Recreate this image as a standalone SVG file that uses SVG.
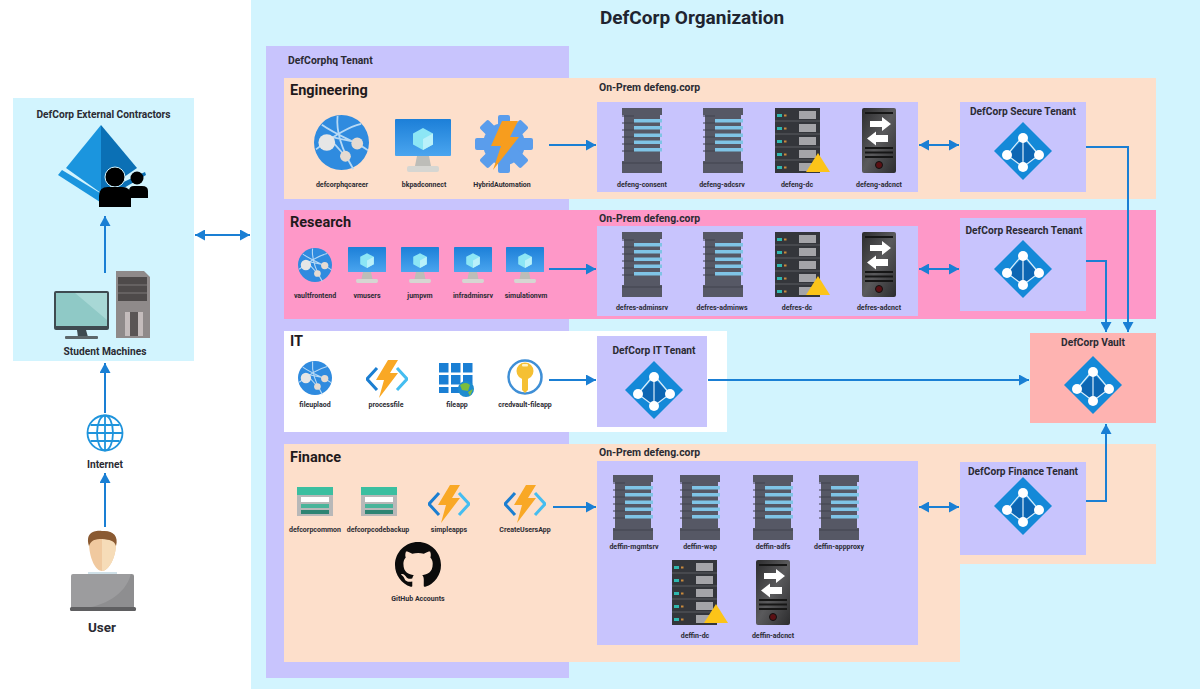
<svg xmlns="http://www.w3.org/2000/svg" width="1200" height="689" viewBox="0 0 1200 689">
<style>
text{font-family:Roboto,"Liberation Sans",sans-serif;font-weight:700;fill:#2b2b33}
.l{font-size:7px;text-anchor:middle}
.m{font-size:10.2px;text-anchor:middle}
.h{font-size:14.5px;fill:#1f1a1c}
.p{font-size:10.4px}
.c{fill:none;stroke:#1a7fd4;stroke-width:2}
.a{marker-end:url(#ah)}
.b{marker-end:url(#ah);marker-start:url(#ah)}
.lav{fill:#c8c4fd}.pea{fill:#fddfcb}
</style>
<defs>
<marker id="ah" markerUnits="userSpaceOnUse" markerWidth="10" markerHeight="11" refX="10" refY="5.5" orient="auto-start-reverse"><path d="M0,0L10,5.5L0,11z" fill="#1a7fd4"/></marker>
<linearGradient id="vmg" x1="0" y1="0" x2="0" y2="1"><stop offset="0" stop-color="#1c7fd8"/><stop offset="1" stop-color="#4aa5ef"/></linearGradient>
<linearGradient id="gwg" x1="0" y1="0" x2="1" y2="1"><stop offset="0" stop-color="#2c2c2e"/><stop offset=".5" stop-color="#5a5a5c"/><stop offset="1" stop-color="#2c2c2e"/></linearGradient>
<symbol id="server" viewBox="0 0 40 65">
<path d="M0,0H40V7H38V53H40V65H0V53H2V7H0z" fill="#565865"/>
<path d="M0,8H12M0,15H12M0,22H12M0,29H12M0,36H12M0,43H12M0,55H40" stroke="#41434e" stroke-width="1"/>
<g fill="#7fc4e6"><rect x="12" y="11" width="28" height="3.5"/><rect x="12" y="18" width="28" height="3.5"/><rect x="12" y="25.5" width="28" height="3.5"/><rect x="12" y="32.5" width="28" height="3.5"/><rect x="12" y="40" width="28" height="3.5"/></g>
</symbol>
<symbol id="rack" viewBox="0 0 45 65">
<rect width="45" height="65" fill="#34363b"/>
<g fill="#a4a4a8"><rect x="24" y="3" width="17" height="8"/><rect x="24" y="16" width="17" height="8"/><rect x="24" y="29" width="17" height="8"/><rect x="24" y="42" width="17" height="8"/><rect x="24" y="55" width="17" height="8"/></g>
<g stroke="#5a5c62" stroke-width="1"><path d="M0,13H45M0,26H45M0,39H45M0,52H45"/></g>
<g fill="#2fb7b0"><rect x="2" y="6" width="5" height="3"/><rect x="2" y="19" width="5" height="3"/><rect x="2" y="32" width="5" height="3"/><rect x="2" y="45" width="5" height="3"/><rect x="2" y="58" width="5" height="3"/></g>
<g fill="#c98a3c"><rect x="9" y="6.5" width="2.5" height="2"/><rect x="9" y="19.5" width="2.5" height="2"/><rect x="9" y="32.5" width="2.5" height="2"/><rect x="9" y="45.5" width="2.5" height="2"/><rect x="9" y="58.5" width="2.5" height="2"/></g>
</symbol>
<symbol id="gateway" viewBox="0 0 34 65">
<rect width="34" height="65" rx="2" fill="url(#gwg)"/>
<path d="M3,5H31M3,40H31M3,44.500H31M3,49H31" stroke="#161616" stroke-width="2"/>
<path d="M8,13H20V9L29,16L20,23V19H8z" fill="#fff"/>
<path d="M26,27H14V23.500L5,30.500L14,37.500V34H26z" fill="#fff"/>
<circle cx="17" cy="57" r="3.500" fill="#5b1014" stroke="#111"/>
</symbol>
<symbol id="tenant" viewBox="0 0 58 58">
<path d="M29,0L58,29L29,58L0,29z" fill="#1489d8"/>
<path d="M29,17L14,33L29,45L44,33z" fill="#0d66b3"/>
<path d="M29,14V45M29,14L13,33L29,45L45,33z" fill="none" stroke="#dceefa" stroke-width="1.200"/>
<g fill="#fff"><circle cx="29" cy="16" r="5"/><circle cx="13" cy="33" r="5"/><circle cx="45" cy="33" r="5"/><circle cx="29" cy="45" r="5"/></g>
</symbol>
<symbol id="web" viewBox="0 0 56 56">
<circle cx="28" cy="28" r="28" fill="#2f8bdf"/>
<path d="M8,10C25,22 45,28 55,36M24,1C22,20 30,38 40,55M2,35C15,25 35,12 48,9M16,22L44,28M16,24L32,42" fill="none" stroke="#b6d9f5" stroke-width="1.800"/>
<circle cx="13" cy="28" r="8.500" fill="#e6e6e6"/><circle cx="44" cy="29" r="6" fill="#e4dbd2"/><circle cx="32" cy="42" r="5.500" fill="#e4dbd2"/>
</symbol>
<symbol id="vm" viewBox="0 0 56 53">
<rect width="56" height="37" rx="1" fill="url(#vmg)"/>
<path d="M22,37H34L36,47H20z" fill="#bdbdb8"/>
<rect x="12" y="47" width="32" height="6" rx="2" fill="#d6d6d2"/>
<path d="M28,9L38,14.500V25.500L28,31L18,25.500V14.500z" fill="#8ce6f5"/>
<path d="M28,20L38,14.500V25.500L28,31z" fill="#b9f1fa"/>
</symbol>
<symbol id="auto" viewBox="0 0 58 58">
<g fill="#5a9dec"><circle cx="29" cy="29" r="21"/>
<rect x="23" y="0" width="12" height="58" rx="2"/>
<rect x="23" y="0" width="12" height="58" rx="2" transform="rotate(45 29 29)"/>
<rect x="23" y="0" width="12" height="58" rx="2" transform="rotate(90 29 29)"/>
<rect x="23" y="0" width="12" height="58" rx="2" transform="rotate(135 29 29)"/></g>
<path d="M27,6H43L35,22H44L18,55L26,31H16z" fill="#f79d1e"/>
</symbol>
<symbol id="func" viewBox="0 0 42 38">
<path d="M11,8L1,19L11,30" fill="none" stroke="#1b7ed1" stroke-width="3"/>
<path d="M31,8L41,19L31,30" fill="none" stroke="#45bdf0" stroke-width="3"/>
<path d="M22,0H32L24,13H32L13,38L18,20H10z" fill="#f9a825"/>
</symbol>
<symbol id="store" viewBox="0 0 36 29">
<rect width="36" height="29" fill="#b8b8b8"/>
<rect width="36" height="8" fill="#3bbfa0"/>
<rect x="4" y="10" width="28" height="5" fill="#fff"/>
<rect x="4" y="17" width="28" height="4" fill="#48b49a"/>
<rect x="4" y="23" width="28" height="4" fill="#2e8473"/>
</symbol>
</defs>

<rect width="1200" height="689" fill="#fff"/>
<rect id="org" x="251" y="0" width="949" height="689" fill="#d2f4fe"/>
<rect id="ext" x="13" y="98" width="181" height="263" fill="#d2f4fe"/>
<rect id="hq" class="lav" x="266" y="46" width="303" height="632"/>
<rect id="eng" class="pea" x="284" y="78" width="872" height="121"/>
<rect id="res" x="284" y="210" width="872" height="109" fill="#fe98c8"/>
<rect id="it" x="284" y="331" width="443" height="101" fill="#fff"/>
<path id="fin" class="pea" d="M284,444H1156V564H960V662H284z"/>
<rect class="lav" x="597" y="102" width="321" height="90"/>
<rect class="lav" x="597" y="226" width="321" height="90"/>
<rect class="lav" x="597" y="461" width="321" height="184"/>

<text x="692" y="24" font-size="19" text-anchor="middle" style="fill:#1f2430">DefCorp Organization</text>
<text class="p" x="288" y="64">DefCorphq Tenant</text>
<text class="h" x="290" y="95">Engineering</text>
<text class="h" x="290" y="227">Research</text>
<text class="h" x="290" y="346">IT</text>
<text class="h" x="290" y="462">Finance</text>
<text class="p" x="599" y="91">On-Prem defeng.corp</text>
<text class="p" x="599" y="222">On-Prem defeng.corp</text>
<text class="p" x="599" y="456">On-Prem defeng.corp</text>

<g id="connectors">
<path class="c b" d="M195,235H250"/>
<path class="c a" d="M105,273V216"/>
<path class="c a" d="M105,413V363"/>
<path class="c a" d="M105,527V473"/>
<path class="c a" d="M549,145H596"/>
<path class="c a" d="M549,269H596"/>
<path class="c a" d="M549,380H596"/>
<path class="c a" d="M553,507H596"/>
<path class="c b" d="M919,145H959"/>
<path class="c b" d="M919,269H959"/>
<path class="c b" d="M919,507H959"/>
<path class="c a" d="M1086,147H1128V332"/>
<path class="c a" d="M1086,261H1106V332"/>
<path class="c a" d="M708,380H1029"/>
<path class="c a" d="M1086,501H1106V424"/>
</g>

<g id="n-contractors">
<path d="M101,125L66,168L101,193z" fill="#1b95de"/>
<path d="M101,125L137,168L101,193z" fill="#0b70b5"/>
<path d="M58,175L62,170L100,193V202z" fill="#1b95de"/>
<path d="M100,202V193L145,172L146,175z" fill="#0b70b5"/>
<circle cx="115" cy="177" r="10" fill="#000" stroke="#d2f4fe" stroke-width="1"/>
<path d="M129,198V191Q129,186 134,186H142Q148,186 148,191V198z" fill="#000"/>
<circle cx="137" cy="178" r="6.5" fill="#000"/>
<path d="M99,207V196Q99,187 108,187H122Q131,187 131,196V207z" fill="#000"/>
<text class="m" x="103.500" y="118">DefCorp External Contractors</text>
</g>
<g id="n-student">
<rect x="54" y="291" width="55" height="39" rx="2" fill="#3e4a50"/>
<rect x="56" y="293" width="51" height="33" fill="#a8d8d6"/>
<path d="M56,293H75L107,320V326H56z" fill="#8fc9c6"/>
<path d="M77,330H86L88,337H78z" fill="#3e4a50"/><rect x="65" y="336" width="33" height="3" rx="1" fill="#5c666a"/>
<path d="M116,271H144L150,277V338H116z" fill="#8f8a8a"/>
<rect x="118" y="277" width="29" height="24" fill="#4e4a4a"/>
<path d="M118,285H147M118,293H147" stroke="#7d7878"/>
<rect x="125" y="312" width="18" height="24" fill="#c4bcbc"/><rect x="130" y="312" width="8" height="24" fill="#5a5555"/>
<text class="m" x="105" y="355">Student Machines</text>
</g>
<g id="n-internet">
<g fill="none" stroke="#1f94dc" stroke-width="1.800"><circle cx="105" cy="433" r="17.500"/><ellipse cx="105" cy="433" rx="8" ry="17.500"/><path d="M105,415.500V450.500M88,433H122M90.500,425H119.500M90.500,441H119.500"/></g>
<text class="m" x="105" y="468">Internet</text>
</g>
<g id="n-user">
<path d="M89,545C87,533 94,531 102,531C111,531 118,534 116,546C115,560 108,571 102,571C96,571 90,560 89,545z" fill="#f0c99f"/>
<path d="M102,537C109,540 112,538 115,542L116,546C115,560 108,571 102,571z" fill="#f6dcb8"/>
<path d="M89,546C85,533 94,530 102,531C112,530 119,535 116,546C114,540 110,540 102,539C95,539 91,540 89,546z" fill="#8a5a32"/>
<rect x="88" y="572" width="29" height="4" fill="#cfe0e8"/>
<rect x="71" y="574" width="63" height="35" rx="2" fill="#9c9c9e"/>
<path d="M134,576V609H80C105,606 125,595 131,574z" fill="#8e8e90"/>
<rect x="70" y="607" width="66" height="4" rx="1.500" fill="#5f5f61"/>
<text x="102" y="632" font-size="13.5" text-anchor="middle">User</text>
</g>

<g id="n-defcorphqcareer"><use href="#web" x="314" y="115" width="55" height="55"/><text class="l" x="342" y="187">defcorphqcareer</text></g>
<g id="n-bkpadconnect"><use href="#vm" x="395" y="119" width="56" height="53"/><text class="l" x="424" y="187">bkpadconnect</text></g>
<g id="n-hybridautomation"><use href="#auto" x="475" y="115" width="58" height="58"/><text class="l" x="502" y="187">HybridAutomation</text></g>

<g id="n-defeng-consent"><use href="#server" x="622" y="108" width="40" height="65"/><text class="l" x="642" y="187">defeng-consent</text></g>
<g id="n-defeng-adcsrv"><use href="#server" x="703" y="108" width="40" height="65"/><text class="l" x="722" y="187">defeng-adcsrv</text></g>
<g id="n-defeng-dc"><use href="#rack" x="775" y="108" width="45" height="65"/><path d="M818,153L830,172H806z" fill="#fcc419"/><text class="l" x="797" y="187">defeng-dc</text></g>
<g id="n-defeng-adcnct"><use href="#gateway" x="862" y="108" width="34" height="65"/><text class="l" x="879" y="187">defeng-adcnct</text></g>
<g id="n-secure"><rect class="lav" x="960" y="102" width="126" height="90"/><text class="m" x="1023" y="115">DefCorp Secure Tenant</text><use href="#tenant" x="994" y="122" width="58" height="58"/></g>

<g id="n-vaultfrontend"><use href="#web" x="298" y="248" width="34" height="34"/><text class="l" x="315" y="298">vaultfrontend</text></g>
<g id="n-vmusers"><use href="#vm" x="348" y="247" width="38" height="36"/><text class="l" x="367" y="298">vmusers</text></g>
<g id="n-jumpvm"><use href="#vm" x="401" y="247" width="38" height="36"/><text class="l" x="420" y="298">jumpvm</text></g>
<g id="n-infradminsrv"><use href="#vm" x="454" y="247" width="38" height="36"/><text class="l" x="473" y="298">infradminsrv</text></g>
<g id="n-simulationvm"><use href="#vm" x="506" y="247" width="38" height="36"/><text class="l" x="526" y="298">simulationvm</text></g>

<g id="n-defres-adminsrv"><use href="#server" x="622" y="232" width="40" height="65"/><text class="l" x="642" y="310">defres-adminsrv</text></g>
<g id="n-defres-adminws"><use href="#server" x="703" y="232" width="40" height="65"/><text class="l" x="722" y="310">defres-adminws</text></g>
<g id="n-defres-dc"><use href="#rack" x="775" y="232" width="45" height="65"/><path d="M818,276L830,295H806z" fill="#fcc419"/><text class="l" x="797" y="310">defres-dc</text></g>
<g id="n-defres-adcnct"><use href="#gateway" x="862" y="232" width="34" height="65"/><text class="l" x="879" y="310">defres-adcnct</text></g>
<g id="n-research"><rect class="lav" x="960" y="218" width="126" height="93"/><text class="m" x="1024" y="234">DefCorp Research Tenant</text><use href="#tenant" x="994" y="240" width="58" height="58"/></g>

<g id="n-fileupload"><use href="#web" x="298" y="361" width="34" height="34"/><text class="l" x="315" y="407">fileuplaod</text></g>
<g id="n-processfile"><use href="#func" x="366" y="360" width="42" height="38"/><text class="l" x="386" y="407">processfile</text></g>
<g id="n-fileapp">
<g fill="#1a7fd4"><rect x="439" y="363" width="9.5" height="9.5"/><rect x="451" y="363" width="9.5" height="9.5"/><rect x="463" y="363" width="9.5" height="9.5"/><rect x="439" y="375" width="9.5" height="9.5"/><rect x="451" y="375" width="9.5" height="9.5"/><rect x="463" y="375" width="9.5" height="9.5"/><rect x="439" y="387" width="9.5" height="6"/><rect x="451" y="387" width="9.5" height="6"/></g>
<circle cx="466" cy="389" r="8" fill="#1e8ccf"/><path d="M460,385Q466,381 470,385L468,391L462,390zM468,392L473,389L470,396z" fill="#7dbd3c"/>
<text class="l" x="457" y="407">fileapp</text></g>
<g id="n-credvault"><circle cx="525" cy="377" r="16.5" fill="#fff" stroke="#3f8fd6" stroke-width="2.5"/>
<circle cx="525" cy="371" r="8.5" fill="#f5c033"/><path d="M522,375H528V390L525,393L522,390z" fill="#f5c033"/><rect x="522" y="364" width="6" height="2.5" rx="1" fill="#fff2c4"/>
<text class="l" x="525" y="407">credvault-fileapp</text></g>
<g id="n-ittenant"><rect class="lav" x="597" y="336" width="110" height="91"/><text class="m" x="654" y="354">DefCorp IT Tenant</text><use href="#tenant" x="625" y="361" width="58" height="58"/></g>
<g id="n-vault"><rect x="1030" y="333" width="126" height="90" fill="#feb3b1"/><text class="m" x="1093" y="346">DefCorp Vault</text><use href="#tenant" x="1064" y="356" width="58" height="58"/></g>

<g id="n-defcorpcommon"><use href="#store" x="297" y="487" width="36" height="29"/><text class="l" x="315" y="532">defcorpcommon</text></g>
<g id="n-defcorpcodebackup"><use href="#store" x="361" y="487" width="36" height="29"/><text class="l" x="378" y="532">defcorpcodebackup</text></g>
<g id="n-simpleapps"><use href="#func" x="428" y="485" width="42" height="38"/><text class="l" x="449" y="532">simpleapps</text></g>
<g id="n-createusersapp"><use href="#func" x="504" y="485" width="42" height="38"/><text class="l" x="525" y="532">CreateUsersApp</text></g>
<g id="n-github"><g transform="translate(395,542) scale(2.875)"><path fill="#0b0b0b" d="M8 0C3.58 0 0 3.58 0 8c0 3.54 2.29 6.53 5.47 7.59.4.07.55-.17.55-.38 0-.19-.01-.82-.01-1.49-2.01.37-2.53-.49-2.69-.94-.09-.23-.48-.94-.82-1.13-.28-.15-.68-.52-.01-.53.63-.01 1.08.58 1.23.82.72 1.21 1.87.87 2.33.66.07-.52.28-.87.51-1.07-1.78-.2-3.64-.89-3.64-3.95 0-.87.31-1.59.82-2.15-.08-.2-.36-1.02.08-2.12 0 0 .67-.21 2.2.82.64-.18 1.32-.27 2-.27.68 0 1.36.09 2 .27 1.53-1.04 2.2-.82 2.2-.82.44 1.1.16 1.92.08 2.12.51.56.82 1.27.82 2.15 0 3.07-1.87 3.75-3.65 3.95.29.25.54.73.54 1.48 0 1.07-.01 1.93-.01 2.2 0 .21.15.46.55.38A8.013 8.013 0 0016 8c0-4.42-3.58-8-8-8z"/></g><text class="l" x="418" y="601">GitHub Accounts</text></g>

<g id="n-deffin-mgmtsrv"><use href="#server" x="613" y="475" width="40" height="65"/><text class="l" x="634" y="549">deffin-mgmtsrv</text></g>
<g id="n-deffin-wap"><use href="#server" x="680" y="475" width="40" height="65"/><text class="l" x="700" y="549">deffin-wap</text></g>
<g id="n-deffin-adfs"><use href="#server" x="753" y="475" width="40" height="65"/><text class="l" x="773" y="549">deffin-adfs</text></g>
<g id="n-deffin-appproxy"><use href="#server" x="819" y="475" width="40" height="65"/><text class="l" x="839" y="549">deffin-appproxy</text></g>
<g id="n-deffin-dc"><use href="#rack" x="672" y="560" width="45" height="65"/><path d="M716,604L728,623H704z" fill="#fcc419"/><text class="l" x="695" y="638">deffin-dc</text></g>
<g id="n-deffin-adcnct"><use href="#gateway" x="756" y="560" width="34" height="65"/><text class="l" x="773" y="638">deffin-adcnct</text></g>
<g id="n-finance"><rect class="lav" x="960" y="462" width="126" height="93"/><text class="m" x="1023" y="475">DefCorp Finance Tenant</text><use href="#tenant" x="994" y="477" width="58" height="58"/></g>
</svg>
